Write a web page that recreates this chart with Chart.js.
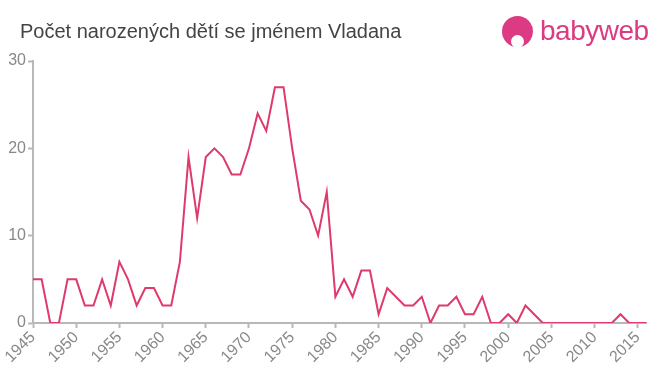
<!DOCTYPE html>
<html>
<head>
<meta charset="utf-8">
<script src="https://cdn.jsdelivr.net/npm/chart.js@4"></script>
<style>
  body { margin: 0; background: #fff; }
  #wrap { position: relative; width: 660px; height: 375px; }
  #title { position: absolute; left: 20px; top: 20px; font: 20px "Liberation Sans", Arial, sans-serif; color: #444; }
  #logo { position: absolute; left: 502px; top: 15px; height: 32px; display: flex; align-items: center; }
  #logo .dot { width: 31px; height: 31px; border-radius: 50%; background: #dc3a82; margin-right: 7px; position: relative; }
  #logo .dot::after { content: ""; position: absolute; left: 9px; top: 19px; width: 13px; height: 13px; border-radius: 50%; background: #fff; }
  #logo span { font: 28px "Liberation Sans", Arial, sans-serif; color: #dc3a82; letter-spacing: -0.5px; }
  canvas { position: absolute; left: 0; top: 0; }
</style>
</head>
<body>
<div id="wrap">
  <canvas id="chart" width="660" height="375"></canvas>
  <div id="title">Počet narozených dětí se jménem Vladana</div>
  <div id="logo"><div class="dot"></div><span>babyweb</span></div>
</div>
<script>
const years = [];
for (let y = 1945; y <= 2016; y++) years.push(String(y));

const births = [
  5, 5, 0, 0, 5, 5, 2, 2, 5, 2,
  7, 5, 2, 4, 4, 2, 2, 7, 19, 12,
  19, 20, 19, 17, 17, 20, 24, 22, 27, 27,
  20, 14, 13, 10, 15, 3, 5, 3, 6, 6,
  1, 4, 3, 2, 2, 3, 0, 2, 2, 3,
  1, 1, 3, 0, 0, 1, 0, 2, 1, 0,
  0, 0, 0, 0, 0, 0, 0, 0, 1, 0,
  0, 0
];

const yTicks = [0, 10, 20, 30];

const axisGray = '#b8b8b8';
const labelGray = '#888';

new Chart(document.getElementById('chart'), {
  type: 'line',
  data: {
    labels: years,
    datasets: [{
      data: births,
      borderColor: '#de3a6b',
      borderWidth: 2,
      pointRadius: 0,
      tension: 0,
      fill: false
    }]
  },
  options: {
    responsive: false,
    animation: false,
    layout: { padding: { top: 61, right: 12, left: 0, bottom: 0 } },
    plugins: { legend: { display: false }, tooltip: { enabled: false } },
    scales: {
      x: {
        offset: false,
        border: { color: axisGray, width: 2 },
        grid: {
          drawOnChartArea: false,
          tickLength: 5,
          tickColor: ctx => (ctx.index % 5 === 0 ? axisGray : 'rgba(0,0,0,0)'),
          tickWidth: 2
        },
        ticks: {
          autoSkip: false,
          maxRotation: 45,
          minRotation: 45,
          padding: 0,
          color: labelGray,
          font: { family: '"Liberation Sans", Arial, sans-serif', size: 16 },
          callback: (v, i) => (i % 5 === 0 ? years[i] : '')
        },
        afterFit: s => { s.height = 52; }
      },
      y: {
        min: 0,
        max: 30,
        border: { color: axisGray, width: 2 },
        grid: { drawOnChartArea: false, tickLength: 5, tickColor: axisGray, tickWidth: 2 },
        afterBuildTicks: s => { s.ticks = yTicks.map(v => ({ value: v })); },
        ticks: {
          padding: 2,
          color: labelGray,
          font: { family: '"Liberation Sans", Arial, sans-serif', size: 16 }
        },
        afterFit: s => { s.width = 33; }
      }
    }
  }
});
</script>
</body>
</html>
